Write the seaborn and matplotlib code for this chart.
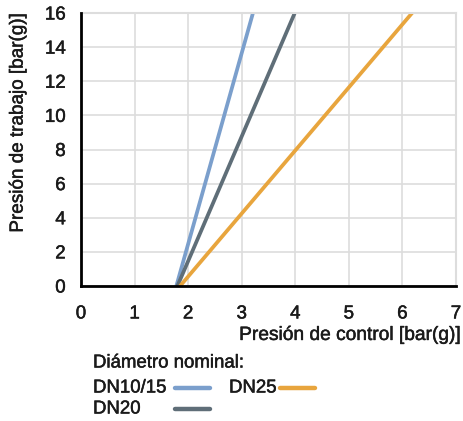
import matplotlib
matplotlib.use("Agg")
import matplotlib.pyplot as plt
import matplotlib.patheffects as pe
from matplotlib.lines import Line2D
import pandas as pd
import seaborn as sns

# endpoints of each characteristic line (control pressure, working pressure)
diametros = ["DN10/15", "DN20", "DN25"]
presion_control = {
    "DN10/15": [1.78, 3.21],
    "DN20": [1.80, 3.99],
    "DN25": [1.85, 6.18],
}
presion_trabajo = {
    "DN10/15": [0, 16],
    "DN20": [0, 16],
    "DN25": [0, 16],
}
colores = ["#7b9fcc", "#5f6e78", "#e8a53d"]
x_ticks = [0, 1, 2, 3, 4, 5, 6, 7]
y_ticks = [0, 2, 4, 6, 8, 10, 12, 14, 16]

rows = []
for d in diametros:
    for xv, yv in zip(presion_control[d], presion_trabajo[d]):
        rows.append({"control": xv, "trabajo": yv, "Diámetro": d})
df = pd.DataFrame(rows)

sns.set_style("white")
plt.rcParams["font.family"] = ["Liberation Sans", "DejaVu Sans"]

TXT = "#1a1a1a"
# slightly heavier strokes, the original uses a medium weight face
heavy = [pe.withStroke(linewidth=0.35, foreground=TXT)]

W, H = 463, 421
fig = plt.figure(figsize=(W / 100, H / 100), dpi=100)
ax = fig.add_axes([81 / W, 1 - 286 / H, 375 / W, 273 / H])

sns.lineplot(
    data=df, x="control", y="trabajo", hue="Diámetro",
    hue_order=diametros, palette=colores, linewidth=2.7,
    ax=ax, legend=False,
)

ax.set_xlim(0, 7)
ax.set_ylim(0, 16)
ax.set_xticks(x_ticks)
ax.set_yticks(y_ticks)
ax.grid(True, color="#dddddd", linewidth=1.2)
ax.set_axisbelow(True)
for s in ["top", "right"]:
    ax.spines[s].set_color("#dddddd")
    ax.spines[s].set_linewidth(1.5)
for s in ["left", "bottom"]:
    ax.spines[s].set_color("black")
    ax.spines[s].set_linewidth(2)
    ax.spines[s].set_zorder(5)
ax.tick_params(axis="both", direction="in", length=4, width=1.5,
               color="#333333", labelsize=13.5, labelcolor=TXT)
ax.tick_params(axis="x", pad=14)
ax.tick_params(axis="y", pad=11)
for t in ax.get_xticklabels() + ax.get_yticklabels():
    t.set_path_effects(heavy)

ax.set_xlabel("Presión de control [bar(g)]", fontsize=13.8, color=TXT,
              loc="right", path_effects=heavy)
ax.xaxis.set_label_coords(1.011, -0.15)
ax.set_ylabel("Presión de trabajo [bar(g)]", fontsize=13.6, color=TXT,
              loc="top", path_effects=heavy)
ax.yaxis.set_label_coords(-0.145, 0.995)

# legend laid out like the original: text first, then a line sample
fs = 13.4
fig.text(93 / W, 1 - 363 / H, "Diámetro nominal:", fontsize=fs,
         color=TXT, va="center", ha="left", path_effects=heavy)
leg_items = [
    (diametros[0], colores[0], 93, 175, 388),
    (diametros[1], colores[1], 93, 175, 409),
    (diametros[2], colores[2], 229, 280, 388),
]
for label, color, tx, lx, ly in leg_items:
    fig.text(tx / W, 1 - ly / H, label, fontsize=fs, color=TXT,
             va="center", ha="left", path_effects=heavy)
    fig.add_artist(Line2D([lx / W, (lx + 35) / W], [1 - ly / H, 1 - ly / H],
                          color=color, linewidth=3.2,
                          transform=fig.transFigure))

fig.savefig("out.png", dpi=100)
